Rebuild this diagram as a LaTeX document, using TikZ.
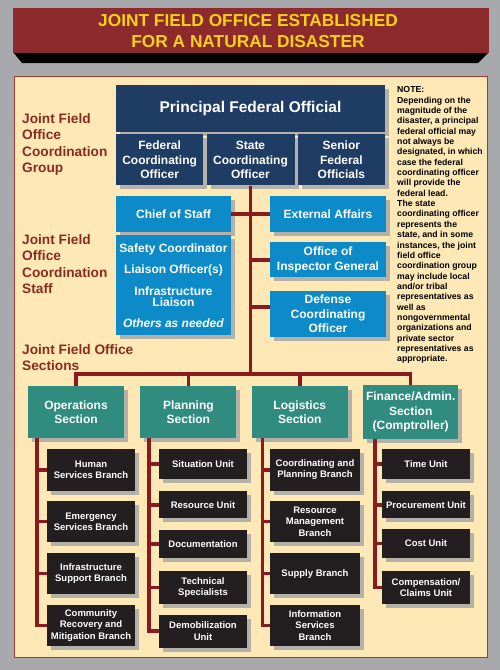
\documentclass[tikz,border=0pt]{standalone}
\usepackage{fontspec}
\setmainfont{Liberation Sans}
\usetikzlibrary{positioning, shadows}

\definecolor{bggray}{HTML}{A7A9AC}
\definecolor{bannerred}{HTML}{8D2A2E}
\definecolor{titleyellow}{HTML}{F7D117}
\definecolor{panelcream}{HTML}{FEE8B5}
\definecolor{panelred}{HTML}{A23A2F}
\definecolor{jfonavy}{HTML}{1F3C64}
\definecolor{jfoblue}{HTML}{0D8BC9}
\definecolor{jfoteal}{HTML}{2F8C7F}
\definecolor{jfoblack}{HTML}{231F20}
\definecolor{linkred}{HTML}{8B1A1E}
\definecolor{labelred}{HTML}{8A2B1F}
\definecolor{shadowgray}{HTML}{B4B1A8}

\begin{document}
\begin{tikzpicture}[
    x=1pt, y=-1pt,
    orgbox/.style={rectangle, inner sep=2pt, align=center, text=white,
                   drop shadow={shadow xshift=4pt, shadow yshift=-4pt,
                                fill=shadowgray, opacity=1}},
    navybox/.style={orgbox, fill=jfonavy, minimum width=87pt, minimum height=51pt,
                    font=\bfseries\fontsize{12}{14.5}\selectfont},
    bluebox/.style={orgbox, fill=jfoblue, minimum width=115pt,
                    font=\bfseries\fontsize{12}{14.5}\selectfont},
    sectbox/.style={orgbox, fill=jfoteal, minimum width=96pt, minimum height=52pt,
                    font=\bfseries\fontsize{12}{14.5}\selectfont},
    unitbox/.style={orgbox, fill=jfoblack, minimum width=88pt,
                    font=\bfseries\fontsize{9.5}{11.5}\selectfont},
    grouplabel/.style={anchor=north west, inner sep=0pt, align=left, text=labelred,
                       font=\bfseries\fontsize{13.7}{16.6}\selectfont},
    link/.style={draw=linkred, line width=3.5pt}
]
\useasboundingbox (0,0) rectangle (500,670);
\fill[bggray] (0,0) rectangle (500,670);
% Title banner
\fill[black] (13,52) -- (489,52) -- (478,63) -- (22,63) -- cycle;
\fill[bannerred] (13,8) rectangle (489,53);
\node[text=titleyellow, align=center, inner sep=0pt,
      font=\bfseries\fontsize{17.3}{21}\selectfont] (title) at (248,31.5)
      {JOINT FIELD OFFICE ESTABLISHED\\FOR A NATURAL DISASTER};
% Panel
\draw[panelred, fill=panelcream, line width=1pt] (14,76) rectangle (487,657);
% Side labels
\node[grouplabel] (grp_l) at (22,113) {Joint Field\\Office\\Coordination\\Group};
\node[grouplabel] (stf_l) at (22,234) {Joint Field\\Office\\Coordination\\Staff};
\node[grouplabel] (sec_l) at (22,344) {Joint Field Office\\Sections};
% Note
\node[anchor=north west, inner sep=0pt, align=left,
      font=\bfseries\fontsize{8.7}{10.35}\selectfont] (note) at (397,86.5)
      {NOTE:\\Depending on the\\magnitude of the\\disaster, a principal\\
       federal official may\\not always be\\designated, in which\\case the federal\\
       coordinating officer\\will provide the\\federal lead.\\The state\\
       coordinating officer\\represents the\\state, and in some\\instances, the joint\\
       field office\\coordination group\\may include local\\and/or tribal\\
       representatives as\\well as\\nongovernmental\\organizations and\\
       private sector\\representatives as\\appropriate.};
% Coordination group
\node[navybox, minimum width=269pt, minimum height=47pt,
      font=\bfseries\fontsize{15.5}{18}\selectfont] (pfo) at (250.5,108.5)
      {Principal Federal Official};
\node[navybox, minimum width=88pt, below=2pt of pfo] (sco) {State\\Coordinating\\Officer};
\node[navybox, left=3pt of sco] (fco) {Federal\\Coordinating\\Officer};
\node[navybox, right=3pt of sco] (sfo) {Senior\\Federal\\Officials};
% Coordination staff
\node[bluebox, minimum height=36pt] (cos) at (173.5,214) {Chief of Staff};
\node[bluebox, minimum height=100pt, below=3pt of cos,
      font=\bfseries\fontsize{12}{11}\selectfont] (safety)
      {Safety Coordinator\\[9.5pt]Liaison Officer(s)\\[9.5pt]Infrastructure\\Liaison\\[9.5pt]
       \textit{Others as needed}};
\node[bluebox, minimum width=116pt, minimum height=36pt] (ext) at (328,214) {External Affairs};
\node[bluebox, minimum width=116pt, minimum height=35pt, below=10pt of ext] (oig)
      {Office of\\Inspector General};
\node[bluebox, minimum width=116pt, minimum height=46pt, below=13pt of oig] (dco)
      {Defense\\Coordinating\\Officer};
% Sections
\node[sectbox] (ops) at (76,412) {Operations\\Section};
\node[sectbox, right=16pt of ops] (plan) {Planning\\Section};
\node[sectbox, right=15pt of plan] (log) {Logistics\\Section};
\node[sectbox, right=15pt of log, minimum width=95pt, minimum height=54pt] (fin)
      {Finance/Admin.\\Section\\(Comptroller)};
% Operations branches
\node[unitbox, minimum height=41.5pt] (hsb) at (91,469.75) {Human\\Services Branch};
\node[unitbox, minimum height=41.5pt, below=10pt of hsb] (esb) {Emergency\\Services Branch};
\node[unitbox, minimum height=41.5pt, below=10pt of esb] (isb) {Infrastructure\\Support Branch};
\node[unitbox, minimum height=41.5pt, below=10pt of isb] (crm)
      {Community\\Recovery and\\Mitigation Branch};
% Planning units
\node[unitbox, minimum height=30pt] (sit) at (203,464) {Situation Unit};
\node[unitbox, minimum height=27pt, below=12pt of sit] (res) {Resource Unit};
\node[unitbox, minimum height=28pt, below=11pt of res] (doc) {Documentation};
\node[unitbox, minimum height=33pt, below=13pt of doc] (tec) {Technical\\Specialists};
\node[unitbox, minimum height=33pt, below=10pt of tec] (dem) {Demobilization\\Unit};
% Logistics branches
\node[unitbox, minimum width=90pt, minimum height=41.5pt] (cpb) at (315,469.75)
      {Coordinating and\\Planning Branch};
\node[unitbox, minimum width=90pt, minimum height=41.5pt, below=10pt of cpb] (rmb)
      {Resource\\Management\\Branch};
\node[unitbox, minimum width=90pt, minimum height=41.5pt, below=10pt of rmb] (sup)
      {Supply Branch};
\node[unitbox, minimum width=90pt, minimum height=41.5pt, below=10pt of sup] (isv)
      {Information\\Services\\Branch};
% Finance units
\node[unitbox, minimum height=30pt] (tim) at (426,464) {Time Unit};
\node[unitbox, minimum height=27pt, below=12pt of tim] (pro) {Procurement Unit};
\node[unitbox, minimum height=29pt, below=10pt of pro] (cst) {Cost Unit};
\node[unitbox, minimum height=33pt, below=13pt of cst] (cmp) {Compensation/\\Claims Unit};
% Connectors
\coordinate (bus) at (sco.south |- 0,374);
\draw[link] (sco.south) -- (bus);
\draw[link] (cos.east) -- (ext.west);
\draw[link] (sco.south) |- (oig.west);
\draw[link] (sco.south) |- ([yshift=7pt]dco.west);
\draw[link] (bus) -| (ops.north);
\draw[link] (bus) -| (plan.north);
\draw[link] (bus) -| (log.north);
\draw[link] (bus) -| (fin.north);
\draw[link] ([xshift=9pt]ops.south west) |- (hsb.west);
\draw[link] ([xshift=9pt]ops.south west) |- (esb.west);
\draw[link] ([xshift=9pt]ops.south west) |- (isb.west);
\draw[link] ([xshift=9pt]ops.south west) |- (crm.west);
\draw[link] ([xshift=9pt]plan.south west) |- (sit.west);
\draw[link] ([xshift=9pt]plan.south west) |- (res.west);
\draw[link] ([xshift=9pt]plan.south west) |- (doc.west);
\draw[link] ([xshift=9pt]plan.south west) |- (tec.west);
\draw[link] ([xshift=9pt]plan.south west) |- (dem.west);
\draw[link] ([xshift=11pt]log.south west) |- (cpb.west);
\draw[link] ([xshift=11pt]log.south west) |- (rmb.west);
\draw[link] ([xshift=11pt]log.south west) |- (sup.west);
\draw[link] ([xshift=11pt]log.south west) |- (isv.west);
\draw[link] ([xshift=12pt]fin.south west) |- (tim.west);
\draw[link] ([xshift=12pt]fin.south west) |- (pro.west);
\draw[link] ([xshift=12pt]fin.south west) |- (cst.west);
\draw[link] ([xshift=12pt]fin.south west) |- (cmp.west);
\end{tikzpicture}
\end{document}
